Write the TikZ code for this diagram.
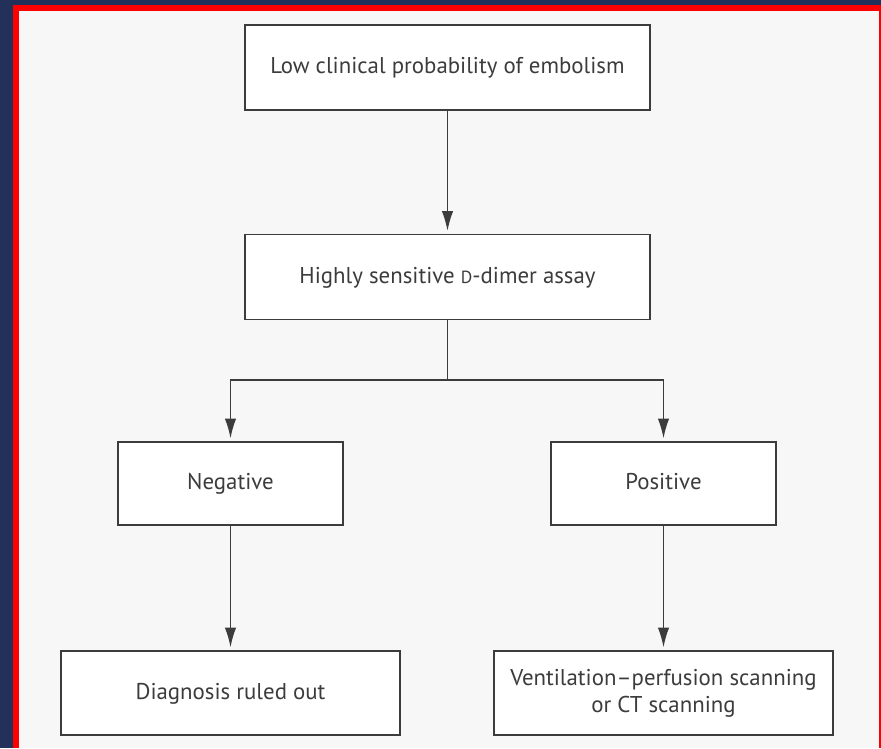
\documentclass[tikz,border=0pt]{standalone}
\usepackage{fontspec}
\setmainfont{PT Sans}
\usetikzlibrary{arrows.meta}
\definecolor{navy}{HTML}{23305A}
\definecolor{panel}{HTML}{F7F7F7}
\definecolor{ink}{HTML}{3C3C3C}
\newcommand{\fakesc}[1]{{\fontsize{10}{12}\selectfont #1}}
\begin{document}
\begin{tikzpicture}[x=0.02cm, y=-0.02cm, every node/.style={font=\fontsize{13}{15.5}\selectfont, text=ink}]

% Estilos de cajas y flechas
\tikzset{
    stepbox/.style={
        draw=ink,
        fill=white,
        line width=1pt,
        align=center,
        inner sep=0pt,
        text height=1.6ex,
        text depth=0.2ex
    },
    widebox/.style={stepbox, minimum width=8.1cm, minimum height=1.7cm},
    testbox/.style={stepbox, minimum width=4.5cm, minimum height=1.66cm},
    endbox/.style={stepbox, minimum width=6.78cm, minimum height=1.68cm},
    link/.style={draw=ink, line width=1pt},
    flow/.style={link, -{Latex[length=4mm, width=2.3mm]}, shorten >=1.5pt}
}

% =============================================
% FONDO Y MARCO
% =============================================
\fill[navy] (0,0) rectangle (881,748);
\fill[red] (13,5) rectangle (881,748);
\fill[panel] (19,11) rectangle (879,748);
\useasboundingbox (0,0) rectangle (881,748);

% =============================================
% CAJAS
% =============================================
\node[widebox] (prob) at (447.5,67.5) {Low clinical probability of embolism};
\node[widebox] (ddimer) at (447.5,277) {Highly sensitive \fakesc{D}-dimer assay};

\node[testbox] (neg) at (230.5,483.5) {Negative};
\node[testbox] (pos) at (663.5,483.5) {Positive};

\node[endbox] (ruled) at (230.5,693) {Diagnosis ruled out};
\node[endbox, text height=, text depth=] (scan) at (663.5,693) {Ventilation--perfusion scanning\\or CT scanning};

% =============================================
% CONECTORES
% =============================================
\coordinate (split) at (447.5,380);

\draw[flow] (prob) -- (ddimer);
\draw[link] (ddimer) -- (split);
\draw[flow] (split) -| (neg);
\draw[flow] (split) -| (pos);
\draw[flow] (neg) -- (ruled);
\draw[flow] (pos) -- (scan);

\end{tikzpicture}
\end{document}
